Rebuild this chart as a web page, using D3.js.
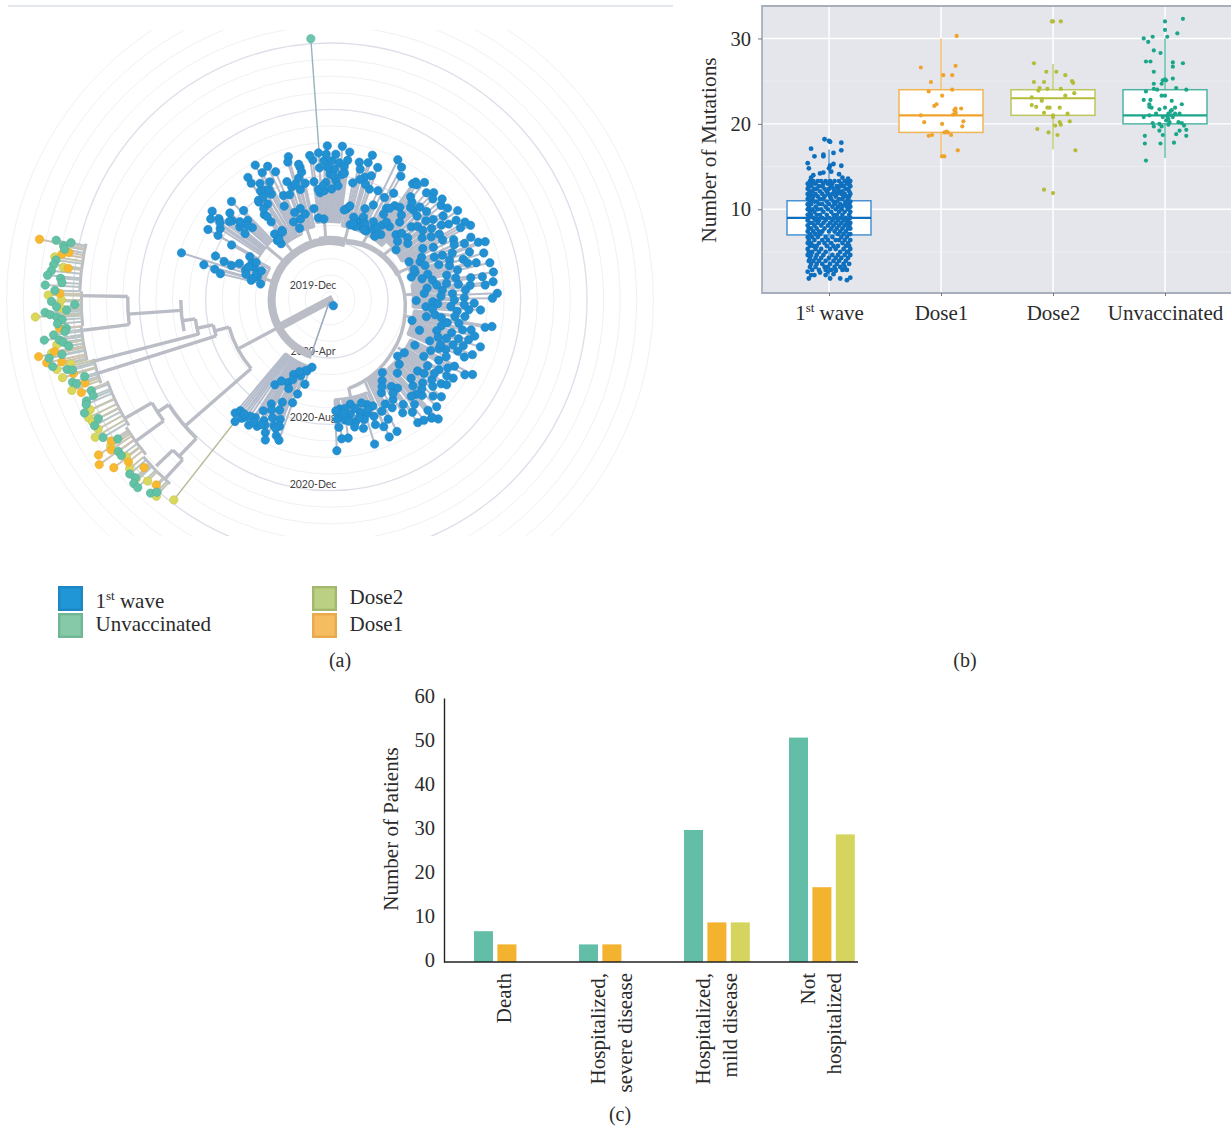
<!DOCTYPE html>
<html>
<head>
<meta charset="utf-8">
<script src="https://d3js.org/d3.v7.min.js"></script>
<style>
body { margin: 0; background: #fff; }
text { font-family: "Liberation Serif", serif; fill: #2b2b2b; }
</style>
</head>
<body>
<script>
// panel (a): angle is degrees clockwise from north, month counts from 2019-Dec
const ringMonths = [1, 2, 3, 5, 6, 7, 9, 10, 11, 13, 14, 15, 17, 18, 19, 20]
const strongRingMonths = [4, 8, 12, 16]
const ringLabels = [['2019-Dec', 0], ['2020-Apr', 4], ['2020-Aug', 8], ['2020-Dec', 12]]

// branch = [angle1, month1, angle2, month2]
const trunkBranches = [[242, 0.3, 242, 4], [198, 4, 375, 4.05]]
const ringTopBranches = [[350, 4.1, 375, 4.1]]
const ringRightBranches = [[375, 4.15, 405, 4.6], [405, 4.6, 430, 4.9]]
const ringThinBranches = [[430, 4.9, 460, 5.1], [460, 5.1, 490, 5.4], [490, 5.4, 510, 5.7], [510, 5.7, 528, 5.95]]
const backboneBranches = [
  [242, 4, 242, 6.7], [229, 6.8, 255, 6.8], [229, 6.8, 229, 12.1], [224, 12.1, 237, 12.1],
  [255, 6.8, 255, 7.7], [252.5, 7.7, 258, 7.7], [258, 7.7, 258, 8.7], [255, 8.7, 262, 8.7],
  [262, 8.7, 262, 9.5], [258, 9.5, 270, 9.5], [266, 9.5, 266, 12.7], [263, 12.7, 271, 12.7],
  [237, 12.1, 237, 12.9], [234, 12.9, 240, 12.9], [240, 12.9, 240, 14.8], [234, 12.9, 234, 15],
  [224, 12.1, 224, 13.6], [222.7, 13.6, 226.3, 13.6], [226.3, 13.6, 226.3, 15], [222.7, 13.6, 222.7, 15.2],
  [252.5, 7.7, 252.5, 15.3], [255.5, 8.7, 255.5, 15.5], [263, 12.7, 263, 15.5], [271, 12.7, 271, 15.6]
]
// rake = [angle1, angle2, month], tips hang off these
const leftRakes = [[272, 283, 15.6], [264, 272, 15.5], [256, 264, 15.6], [250, 256, 15.2], [238, 250, 14.8], [230, 238, 15], [221, 230, 15.2]]

// crown clade = [stem angle, base month, bend month, [tip angle, tip month, ...]]
const crownClades = [
  [-72, 4.2, 4.6, [-72.4, 9.9, -69, 7.9, -74.4, 8.4, -75, 7.7, -76.5, 7.3, -70, 7.3, -70.7, 6.8, -68, 6.4, -61.6, 6, -66.5, 5.5, -70.5, 5.9, -76, 5.4, -72, 5.1, -77, 4.8, -65, 5.7, -74, 5.3, -70, 5.2, -67, 5, -63, 5.5, -73, 5.8, -68, 5.8]],
  [-50, 4.2, 5.5, [-53, 9.4, -55.8, 9.2, -53.8, 8.8, -60, 9, -57, 8.4, -60, 8.3, -49, 8.5, -51, 8.1, -51, 7.5, -52, 7, -47, 6.9, -60.8, 7.3, -44, 8, -46, 7.4, -45, 8.9, -49, 7.7, -55, 8.6, -48, 7.2, -52, 8.2]],
  [-38, 4.2, 4.8, [-37.6, 7, -37, 6.4, -40, 5.7, -41.6, 5.3, -34.6, 5.6, -36, 7.8, -33, 7.4, -34, 9, -33.8, 9.4, -32.5, 8.3, -29, 7.8, -41, 5, -40, 5.3, -35, 5.5, -37, 6.8, -36, 7.3, -35.6, 7.9, -30.6, 8.2, -29, 8.1, -28, 9.2, -29, 9.8, -25, 9.4, -23, 8.9, -27, 8.5, -31, 8.7, -33, 7.9]],
  [-18, 4.2, 5, [-23, 5.2, -25, 5.7, -20, 5.7, -16, 5.9, -26, 6.8, -24, 7.4, -20, 8.1, -18.7, 7.7, -16.6, 7.8, -14.4, 8.1, -12.5, 8.4, -12.7, 8.7, -16.2, 9.5, -17, 9.2, -22, 6.2, -18, 6.3, -15, 7.4, -21, 7.3, -13, 8.9, -12, 7.7]],
  [-4, 4.1, 5.2, [-10, 6.1, -8, 5.5, -4.3, 5.4, -5.3, 7, -3, 7.1, 0.9, 7.2, -7.7, 7.7, 0, 8.1, 2.9, 7.7, 5.3, 8.1, -4.6, 8.5, -2.5, 8.9, 0.7, 8.9, 3.9, 8.8, 6, 8.6, 7.2, 9, -7, 9, -8, 9.3, -4.5, 9.4, -1.5, 9.3, 2.3, 9.3, 7.6, 9.5, -1, 9.8, 4.6, 9.8, -2, 7.6, 2, 8.4, 4, 7.4, -1, 8.5, 1.5, 8, -6, 7.2, -3.5, 7.4, 6.5, 8.2]],
  [14, 4.2, 5, [10.3, 6.1, 15, 5.2, 11, 7.7, 12, 9, 15.5, 9.1, 16.3, 9.6, 15.8, 8.2, 18.4, 8.4, 19.8, 9, 19.6, 7.6, 21.6, 5.7, 23.7, 7.7, 24.5, 6.8, 9, 6, 12, 6.3, 14, 8, 17, 7.8, 20, 5.4, 22, 5.9, 23, 5.3, 18, 5.5, 16, 5.7, 21, 6.4, 13, 8.6, 19, 5.2, 24, 5.6, 17, 5.3]],
  [30, 4.4, 5, [27.6, 5.2, 29, 5.9, 34.8, 6, 37.8, 5.5, 34.4, 7.4, 31.7, 7, 28, 7.5, 30.8, 8, 25.8, 9.9, 28.3, 9.6, 29.8, 9.1, 35.4, 9.1, 38.8, 9.6, 42.8, 7.9, 41.8, 6.8, 44, 8.3, 25, 5.5, 31, 5.5, 33, 5.7, 36, 9.3, 37, 9.2, 37, 7.5, 40, 7.2, 39, 6.2, 33, 7.1, 36, 6.3, 26, 5.2, 32, 6.6, 35, 5.2, 41, 7.9, 42, 9.2, 40, 8.2, 38, 8.4]],
  [50, 4.7, 5.4, [45.3, 6.1, 48, 7.1, 50.4, 8, 51.3, 6.5, 52.8, 5.5, 54.8, 8, 44, 9.5, 45.5, 9.2, 49.6, 9.3, 53.4, 9, 55, 9.9, 57.7, 9.5, 57.4, 9, 62, 10.1, 47, 6.4, 50, 7.4, 54, 6.3, 56, 7.2, 47.5, 8.4, 52, 8.4, 58, 7.7, 60, 9.9, 46, 7.8, 49, 5.9, 53, 7.5, 56, 8.6, 59, 8.2, 61, 9.5, 48, 9.6, 52, 9.5]],
  [68, 5, 5.6, [61, 6.9, 64.2, 5.8, 67, 6.4, 67.6, 7.3, 68.3, 7.8, 71.6, 8.1, 67.2, 9.3, 71, 9.4, 68.7, 10.1, 69.4, 10.5, 73, 10.2, 75.7, 9.6, 76.9, 10.4, 75.2, 6.6, 74.2, 5.6, 76.8, 8.4, 63, 7.5, 65, 6.6, 70, 6.6, 72, 7.4, 74, 8, 64, 8.8, 72, 5.9, 77, 6.2, 62, 8.2, 66, 8.7, 69, 8.4, 73, 8.9, 75, 9.1, 78, 7.7, 70, 5.9, 66, 9.8]],
  [86, 5.1, 5.5, [80.3, 10.5, 81.3, 9.8, 83.6, 10.4, 87.7, 10.6, 89.4, 10.3, 84.5, 9.9, 84, 9, 85.8, 8.7, 87, 7.9, 81.9, 7.6, 90.4, 5.7, 90.9, 6.7, 91.3, 9.2, 93.8, 9.6, 94, 6.3, 93.1, 7.8, 80, 8.2, 83, 6.4, 86, 6.2, 89, 8.6, 92, 7, 95, 8.2, 79, 6.8, 95, 6.7, 81, 9.1, 83, 8.3, 85, 7.3, 88, 7.2, 90, 8, 92, 8.6, 94, 8.9, 82, 7]],
  [102, 5.2, 5.6, [99.3, 10.4, 100, 10, 99.8, 6.4, 104, 5.6, 102.7, 8.7, 97.5, 8.1, 100.2, 8.4, 108.7, 6.2, 108.2, 7.9, 112.3, 7, 106.8, 8.6, 106, 9.2, 107.3, 10, 111, 9.7, 111.8, 8.8, 113.2, 8.1, 98, 6.9, 103, 7.4, 105, 8.1, 110, 8.4, 114, 7.7, 109, 9, 101, 7.7, 97, 8.7, 99, 7.3, 102, 9.2, 104, 9.5, 106, 7.2, 109, 7.4, 112, 7.7, 113, 9.3]],
  [125, 5.5, 5.9, [116.6, 7.3, 118, 6.3, 117.6, 10.2, 119, 9.8, 122.4, 9.3, 122.5, 8.3, 128, 8.3, 131.8, 8, 137.6, 8.2, 133, 9, 139.3, 9.9, 137.7, 10.2, 129, 7.3, 129.7, 5.8, 125.4, 6, 132.9, 6.2, 137.3, 6.5, 136, 7.7, 139.8, 8.1, 136, 8.5, 138.4, 9.4, 139, 9.9, 120, 8.7, 124, 7.6, 127, 8.9, 130, 8.6, 134, 7.3, 121, 7.1, 126, 9.2, 134, 8.2, 118, 9, 116, 8.3, 119, 8, 123, 8.9, 125, 8.2, 131, 9.4, 128, 7.7, 135, 9.6]],
  [150, 5.6, 5.8, [144.4, 9.6, 142, 9.7, 143.7, 8.9, 141, 8.6, 147.2, 8.6, 147.6, 7.6, 151, 6.9, 147.2, 6.3, 144.6, 6.9, 153, 9.4, 156.6, 9.5, 154, 8.5, 144.2, 5.9, 142.5, 7.2, 150, 8, 152, 7.6, 146, 7.3, 149, 6.6, 145, 8.2, 155, 7.9, 157, 8.8]],
  [168, 5.9, 6.5, [162.8, 9.6, 160.4, 7.2, 159.3, 8, 165, 7.5, 165.4, 8.5, 169, 6.9, 168, 8, 172.5, 8.9, 175.2, 8.9, 177.4, 9.6, 174.8, 7.1, 172.9, 7.8, 176.5, 7.7, 163, 7, 162, 7.7, 167, 7.2, 170, 7.5, 172, 7.1, 175, 7.4, 158, 7.4, 164, 8, 177, 7.2, 171, 7.9, 161, 7.5, 166, 7.8, 173, 7.4, 169, 8.3, 176, 8.2, 160, 8.5]]
]
// second blue clade, bottom left
const lowerBlueTips = [195, 4.7, 198, 5, 201, 5.4, 206, 5.5, 196.6, 5.8, 207, 6.1, 205, 6.4, 213, 6.6, 200, 7.1, 209.5, 7.7, 204.6, 7.8, 211, 8.3, 206, 8.4, 202.6, 8.3, 204, 8.8, 201.8, 8.7, 208.7, 8.8, 212.4, 8.9, 213, 9.5, 210, 9.3, 216.7, 9.4, 220, 9.4, 218, 9.8, 215.7, 9.2, 206, 9.4, 204.8, 9.8, 201.6, 9.3, 200, 9.5, 199, 5, 203, 5.2, 205, 5.8, 211, 6.2, 219, 9.1, 214.5, 9, 207.5, 9, 217, 9.1, 212, 9.2, 209, 9.1, 203, 8.9, 205, 7.3, 199, 6.5, 208, 8]
const rootTip = [150, 0.9]
const outlierUnvacc = [-4.2, 9, 16.3]   // angle, attach month, tip month
const outlierDose2 = [218, 9.4, 15.8]

const leftUnvacc = [282.3, 17.4, 281.5, 16.9, 282.5, 16.5, 280.8, 16.8, 278.3, 17.2, 277.3, 17.3, 276, 17.4, 275, 17.6, 274.6, 16.8, 273.7, 16.7, 273, 17.7, 272, 17.1, 269.7, 17.3, 269, 15.9, 268.6, 17, 267.8, 16.4, 267.5, 17.7, 267, 17.4, 266.4, 17, 265.8, 16.7, 265, 17, 263.9, 16.5, 263.2, 16.6, 262, 17.9, 262.8, 17.3, 261.6, 17, 261, 16.8, 260, 16.5, 258.3, 17.8, 258.5, 17, 256.5, 17.7, 255.2, 16.9, 254.8, 16.6, 252.3, 16.8, 251.7, 16.6, 252.7, 16, 249.2, 15.9, 248, 15.9, 247.5, 16.4, 246.8, 16.5, 245.3, 16.8, 242.9, 16.2, 241.9, 16.6, 238.8, 16.5, 236.8, 15.8, 234.4, 16.2, 233.3, 16.2, 229, 16.5, 227.6, 16.4, 226.9, 16.7, 225.7, 16.7, 222.9, 16.4, 222, 16.1]
const leftDose1 = [281.8, 18.4, 279.7, 16.9, 280.3, 16.5, 276.9, 16.4, 271.4, 16.8, 264, 16.9, 259.4, 17.4, 259, 18.4, 257.5, 18, 257, 17.1, 254, 16.6, 251.3, 16.1, 249.6, 16.5, 237.2, 16.2, 235.6, 16.5, 236.2, 17.3, 234.5, 17.6, 232.2, 17, 231.2, 16.1, 228, 15.6, 223.2, 15.8]
const leftDose2 = [278.9, 17.3, 277, 16.7, 271, 17.5, 270, 16.7, 268.2, 16.7, 266.7, 18.3, 260.7, 17.2, 259.2, 17.6, 256.2, 16.6, 255.7, 17.5, 253.8, 17.3, 250.7, 17, 245.4, 16.4, 244, 16.7, 242.9, 16.6, 240.9, 16.5, 239.7, 16.9, 236.3, 16.4, 232.4, 16, 229.9, 16.3, 227.3, 16.4, 225.2, 16, 221.5, 16.3]

const legendLeft = ['1st wave', 'Unvaccinated']
const legendRight = ['Dose2', 'Dose1']

// panel (b)
const groups = ['1st wave', 'Dose1', 'Dose2', 'Unvaccinated']
const boxQ1 = [7, 19, 21, 20]
const boxMedian = [9, 21, 23, 21]
const boxQ3 = [11, 24, 24, 24]
const whiskerLow = [2, 16, 17, 16]
const whiskerHigh = [17, 30, 27, 30]
// jitter is in hundredths of a category: [jitter, mutations, jitter, mutations ...]
const dose1Points = [14, 30.3, 13, 26.8, -18, 26.6, 2, 25.7, 10, 25.7, -9, 24.9, -11, 23.8, 10, 24, 1, 23.3, -4, 22.3, -6, 22.1, 13, 21.8, 18, 21.8, 13, 21.4, 11, 21.1, -18, 21, -15, 20.2, 1, 20, 20, 20.3, 19, 19.7, 3, 19, 6, 19, 9, 18.7, -11, 18.6, -8, 18.7, 3, 16.2, 15, 16.9, 13, 21.2, 5, 19.1, 1, 16.2, 12, 21.6]
const dose2Points = [0, 32, 7, 32, -17, 27.1, -6, 26.1, 3, 26.1, 11, 25.7, -17, 24.9, -8, 24.9, 17, 25, 18, 24.8, -12, 24.2, -5, 24.1, 7, 24.1, -13, 23.9, 19, 23.6, 11, 23.3, -19, 23.1, -10, 22.9, -10, 22.7, -19, 22.2, -15, 22, -5, 21.9, -3, 21.9, 6, 21.9, -8, 21.3, 13, 21.2, 0, 21, 0, 20.8, 15, 20.3, 6, 20.2, 2, 19.8, 7, 19.9, -14, 19.4, -4, 19, 4, 18.7, 20, 16.9, -8, 12.3, 0, 11.9, -1, 32]
const unvaccPoints = [16, 32.3, 0, 32, 0, 31, 11, 30.6, -11, 30.2, 2, 30.2, -19, 30, -15, 29.6, -10, 28.6, -4, 28.3, -17, 27.3, -13, 27.3, 7, 27.2, 16, 27.1, 7, 26.7, -10, 26.1, -2, 25.1, 1, 25.1, 7, 25.3, -10, 24.7, -3, 24.7, 10, 24.2, -10, 24.1, -7, 24, 19, 24, -17, 23.8, -3, 23.3, 0, 23.3, 6, 22.7, -19, 22.8, -13, 22.8, -14, 22.3, 15, 22.3, -12, 21.9, 0, 21.9, 9, 21.9, -14, 22, -5, 21.7, 6, 21.6, -8, 21.2, 3, 21.2, 6, 21, 9, 21.2, 13, 21.2, -14, 21, -19, 20.8, -2, 20.8, 3, 20.6, 7, 20.8, 1, 20.4, 4, 20.2, 12, 20.2, -11, 20.1, -5, 20, 15, 20.1, 17, 19.8, -10, 19.7, -3, 19.7, 3, 19.9, 19, 19.3, -5, 19.2, 13, 19.2, 10, 18.8, -18, 18.6, -2, 18.7, 19, 18.6, -18, 17.7, -4, 17.7, 8, 17.8, -17, 15.7, 0, 25.2, 5, 21.5, 2, 20.9]
const waveSparse = [-4, 18.2, 0, 18, 1, 17.9, 11, 17.8, -16, 17.1, 11, 16.9, 4, 16.6, -13, 16.2, -5, 16.2, -5, 16.4, -19, 15.4, -18, 14.8, 1, 15.1, 4, 15.3, 11, 15.1, -14, 14, -8, 14.2, -5, 14.3, 2, 14.4, 9, 14.1, 0, 14.8, -19, 2.7, -16, 2.3, -18, 1.9, -13, 2.3, -3, 2.3, 1, 1.9, 10, 1.9, 16, 1.7, 19, 2, 14, 3, 6, 2.8, -8, 2.6, -1, 2.7, 4, 2.4, 12, 13.7, 17, 13.6, -16, 13.7]
// rows of the dense 1st wave block: mutations, then the jitters at that height
const waveRows = [
  [13.3, -17, -14, -10, -7, -3, 1, 5, 9, 14, 17, 19],
  [13.0, -19, -15, -12, -5, -1, 3, 11, 16, 18],
  [12.7, -18, -16, -9, -6, 2, 7, 10, 13, 19],
  [12.4, -19, -13, -11, -4, 0, 4, 8, 15, 17],
  [12.1, -17, -15, -8, -2, 5, 9, 12, 18],
  [11.8, -19, -16, -12, -6, -1, 3, 7, 11, 14, 19],
  [11.5, -18, -14, -10, -4, 1, 6, 13, 16, 18],
  [11.2, -19, -15, -8, -5, 2, 9, 12, 17],
  [10.9, -17, -13, -11, -2, 4, 7, 15, 19],
  [10.6, -19, -16, -9, -6, 0, 5, 10, 14, 18],
  [10.3, -18, -12, -3, 3, 8, 12, 16, 19],
  [10.0, -19, -15, -10, -7, -1, 6, 11, 17],
  [9.7, -17, -13, -5, 2, 9, 14, 19],
  [9.35, -19, -16, -11, -8, -2, 4, 7, 12, 18],
  [9.0, -18, -14, -6, 0, 5, 10, 15, 19],
  [8.7, -19, -12, -9, -3, 3, 8, 13, 17],
  [8.4, -17, -15, -10, -5, 1, 6, 11, 16, 19],
  [8.1, -19, -13, -7, -1, 4, 9, 14, 18],
  [7.75, -18, -16, -11, -4, 2, 7, 12, 17, 19],
  [7.4, -19, -14, -9, -6, 0, 5, 10, 15],
  [7.1, -17, -12, -8, 8, 13, 18, 19],
  [6.75, -19, -15, -10, -3, 3, 11, 16],
  [6.4, -18, -13, -6, -1, 6, 9, 14, 19],
  [6.05, -19, -16, -9, -4, 2, 12, 17],
  [5.7, -17, -14, -11, -2, 4, 8, 15, 18],
  [5.35, -19, -12, -7, 1, 6, 13, 19],
  [5.0, -18, -15, -9, -3, 10, 16, 17],
  [4.65, -19, -16, -11, -5, 3, 8, 14, 19],
  [4.3, -17, -12, -7, 0, 6, 11, 17],
  [3.95, -18, -14, -9, -3, 4, 9, 15],
  [3.6, -16, -11, -6, 1, 7, 13, 18],
  [3.25, -17, -12, -4, -1, 5, 10, 14],
  [2.9, -15, -9, -3, 2, 6, 12, 16]
]

// panel (c)
const outcomes = ['Death', 'Hospitalized,|severe disease', 'Hospitalized,|mild disease', 'Not|hospitalized']
const vaccStatus = ['Unvaccinated', 'Dose1', 'Dose2']
const unvaccPatients = [7, 4, 30, 51]
const dose1Patients = [4, 4, 9, 17]
const dose2Patients = [0, 0, 9, 29]

const blue = '#2191d3', green = '#62c2a6', orange = '#f8b92f', yellow = '#d9d85a'
const branchGrey = '#bbbdc6'

const svg = d3.select('body').append('svg')
    .attr('width', 1231)
    .attr('height', 1128)
    .attr('viewBox', '0 0 1231 1128')
    .style('display', 'block')

function pairs(flat) {
    return d3.range(0, flat.length, 2).map(i => [flat[i], flat[i + 1]])
}

// ---------- (a) radial tree ----------
const cx = 330, cy = 300
const radius = d3.scaleLinear().domain([4, 16]).range([58, 257])

function polar(angle, month) {
    let t = angle * Math.PI / 180, r = radius(month)
    return [cx + r * Math.sin(t), cy - r * Math.cos(t)]
}

function branchPath(a1, m1, a2, m2) {
    let p1 = polar(a1, m1), p2 = polar(a2, m2)
    if (a1 === a2) return `M${p1}L${p2}`
    let r = (radius(m1) + radius(m2)) / 2
    return `M${p1}A${r},${r} 0 ${Math.abs(a2 - a1) > 180 ? 1 : 0} ${a2 > a1 ? 1 : 0} ${p2}`
}

svg.append('line').attr('x1', 8).attr('x2', 673).attr('y1', 6).attr('y2', 6)
    .attr('stroke', '#dcdfe8').attr('stroke-width', 1.5)

svg.append('clipPath').attr('id', 'treeClip').append('rect')
    .attr('x', 0).attr('y', 30).attr('width', 668).attr('height', 506)

const tree = svg.append('g').attr('clip-path', 'url(#treeClip)')

tree.selectAll('.ring').data(ringMonths).join('circle').attr('class', 'ring')
    .attr('cx', cx).attr('cy', cy).attr('r', d => radius(d))
    .attr('fill', 'none').attr('stroke', '#f0f1f6').attr('stroke-width', 1)
tree.selectAll('.strongRing').data(strongRingMonths).join('circle').attr('class', 'strongRing')
    .attr('cx', cx).attr('cy', cy).attr('r', d => radius(d))
    .attr('fill', 'none').attr('stroke', '#dde0ea').attr('stroke-width', 1.4)

tree.selectAll('.ringLabel').data(ringLabels).join('text').attr('class', 'ringLabel')
    .attr('x', 313).attr('y', d => cy + radius(d[1]) - 3)
    .attr('text-anchor', 'middle')
    .style('font-family', 'Lato, sans-serif').style('font-size', '10.5px').style('fill', '#444')
    .text(d => d[0])

function drawBranches(list, width, colour) {
    tree.append('g').selectAll('path').data(list).join('path')
        .attr('d', d => branchPath(d[0], d[1], d[2], d[3]))
        .attr('fill', 'none').attr('stroke', colour || branchGrey).attr('stroke-width', width)
}

// crown stems and tips lines
crownClades.forEach(function(clade) {
    let tips = pairs(clade[3])
    let spread = d3.extent(tips, d => d[0])
    drawBranches([[clade[0], clade[1], clade[0], clade[2]]], 3)
    drawBranches([[spread[0], clade[2], spread[1], clade[2]]], 2)
    drawBranches(tips.map(t => [t[0], clade[2], t[0], t[1]]), 2, '#b6bcca')
})

let lowerTips = pairs(lowerBlueTips)
drawBranches([[198, 4.7, 220, 4.7]], 2.5)
drawBranches(lowerTips.map(t => [t[0], 4.7, t[0], t[1]]), 2, '#b4bccc')

drawBranches(trunkBranches, 8)
drawBranches(ringTopBranches, 9)
drawBranches(ringRightBranches, 5.5)
drawBranches(ringThinBranches, 3.5)
drawBranches(backboneBranches, 3.4)
drawBranches(leftRakes.map(d => [d[0], d[2], d[1], d[2]]), 3)

// long single branches
drawBranches([[199, 0.6, 199, 4]], 1.6, '#9fa9bd')
drawBranches([[outlierUnvacc[0], outlierUnvacc[1], outlierUnvacc[0], outlierUnvacc[2]]], 1.4, '#95b4bb')
drawBranches([[outlierDose2[0], outlierDose2[1], outlierDose2[0], outlierDose2[2]]], 1.4, '#b8b898')

function rakeMonth(angle) {
    let rake = leftRakes.find(d => angle >= d[0] && angle <= d[1])
    return rake ? rake[2] : 15.3
}

const leftSets = [[leftUnvacc, green, '#b9c4c6'], [leftDose1, orange, '#cdc3b4'], [leftDose2, yellow, '#c4c6b0']]
leftSets.forEach(function(s) {
    drawBranches(pairs(s[0]).map(t => [t[0], rakeMonth(t[0]), t[0], t[1]]), 2, s[2])
})

function drawTips(list, colour, stroke) {
    tree.append('g').selectAll('circle').data(list).join('circle')
        .attr('cx', d => polar(d[0], d[1])[0])
        .attr('cy', d => polar(d[0], d[1])[1])
        .attr('r', 4.2)
        .attr('fill', colour).attr('stroke', stroke).attr('stroke-width', 0.6)
}

crownClades.forEach(clade => drawTips(pairs(clade[3]), blue, '#1c86c6'))
drawTips(lowerTips, blue, '#1c86c6')
drawTips([rootTip], blue, '#1c86c6')
drawTips(pairs(leftDose2), yellow, '#c4c552')
drawTips(pairs(leftDose1), orange, '#e5aa38')
drawTips(pairs(leftUnvacc), green, '#55ae95')
drawTips([[outlierUnvacc[0], outlierUnvacc[2]]], '#6cc5ae', '#5cb39c')
drawTips([[outlierDose2[0], outlierDose2[2]]], yellow, '#c4c552')

// legend
function legend(names, x, ys, fills, borders, textX, textYs) {
    names.forEach(function(name, i) {
        svg.append('rect').attr('x', x + 1.2).attr('y', ys[i] + 1.2).attr('width', 22.6).attr('height', 22.6)
            .attr('fill', fills[i]).attr('stroke', borders[i]).attr('stroke-width', 2.4)
        let t = svg.append('text').attr('x', textX - 0.5).attr('y', textYs[i]).style('font-size', '21px')
        if (name === '1st wave') superscript(t, 21)
        else t.text(name)
    })
}

function superscript(t, size) {
    t.append('tspan').text('1')
    t.append('tspan').attr('dy', -size * 0.36).style('font-size', (size * 0.62) + 'px').text('st')
    t.append('tspan').attr('dy', size * 0.36).text(' wave')
}

legend(legendLeft, 58, [586, 613], ['#2196d6', '#86c9a8'], ['#1d87c5', '#70b795'], 96, [608, 631])
legend(legendRight, 312, [586, 613], ['#bcd083', '#f5bc60'], ['#a3b86f', '#e9a94d'], 350, [604, 631])

svg.selectAll('.panelLabel').data([['(a)', 340, 667], ['(b)', 965, 667], ['(c)', 620, 1121]])
    .join('text').attr('class', 'panelLabel')
    .attr('x', d => d[1]).attr('y', d => d[2]).attr('text-anchor', 'middle')
    .style('font-size', '20px').text(d => d[0])

// ---------- (b) box plot ----------
const boxColours = ['#0e6fbe', '#f0a32c', '#b4bd3a', '#1ba68a']
const boxLight = ['#4a92d2', '#f2b555', '#bcc65c', '#4db5a2']
const panelB = { left: 762, right: 1231, top: 6, bottom: 293 }
const yB = d3.scaleLinear().domain([0.2, 33.8]).range([panelB.bottom, panelB.top])
const xB = d3.scalePoint().domain(groups).range([829, 1165])
const jitter = d3.scaleLinear().domain([-100, 100]).range([-112, 112])

svg.append('rect').attr('x', panelB.left).attr('y', panelB.top)
    .attr('width', panelB.right - panelB.left).attr('height', panelB.bottom - panelB.top)
    .attr('fill', '#e4e6eb')

const minorTicks = [5, 15, 25]
svg.append('g').selectAll('line').data(minorTicks).join('line')
    .attr('x1', panelB.left).attr('x2', panelB.right).attr('y1', d => yB(d)).attr('y2', d => yB(d))
    .attr('stroke', '#eceef1').attr('stroke-width', 1)
svg.append('g').selectAll('line').data([10, 20, 30]).join('line')
    .attr('x1', panelB.left).attr('x2', panelB.right).attr('y1', d => yB(d)).attr('y2', d => yB(d))
    .attr('stroke', '#fff').attr('stroke-width', 1.4)
svg.append('g').selectAll('line').data(groups).join('line')
    .attr('x1', d => xB(d)).attr('x2', d => xB(d)).attr('y1', panelB.top).attr('y2', panelB.bottom)
    .attr('stroke', '#fff').attr('stroke-width', 1.4)

// frame, top left bottom only
svg.append('path').attr('d', `M${panelB.right},${panelB.top}H${panelB.left}V${panelB.bottom}H${panelB.right}`)
    .attr('fill', 'none').attr('stroke', '#a8aebb').attr('stroke-width', 1.8)

const boxG = svg.append('g')
groups.forEach(function(g, i) {
    let x = xB(g)
    boxG.append('line').attr('x1', x).attr('x2', x).attr('y1', yB(whiskerLow[i])).attr('y2', yB(whiskerHigh[i]))
        .attr('stroke', boxLight[i]).attr('stroke-width', 1.3)
    boxG.append('rect').attr('x', x - 42).attr('width', 84)
        .attr('y', yB(boxQ3[i])).attr('height', yB(boxQ1[i]) - yB(boxQ3[i]))
        .attr('fill', '#fff').attr('stroke', boxLight[i]).attr('stroke-width', 1.5)
    boxG.append('line').attr('x1', x - 42).attr('x2', x + 42).attr('y1', yB(boxMedian[i])).attr('y2', yB(boxMedian[i]))
        .attr('stroke', boxColours[i]).attr('stroke-width', 2.2)
})

const wavePoints = waveRows.flatMap(row => row.slice(1).map(j => [j, row[0]])).concat(pairs(waveSparse))
const groupPoints = [wavePoints, pairs(dose1Points), pairs(dose2Points), pairs(unvaccPoints)]
groups.forEach(function(g, i) {
    svg.append('g').selectAll('circle').data(groupPoints[i]).join('circle')
        .attr('cx', d => xB(g) + jitter(d[0]))
        .attr('cy', d => yB(d[1]))
        .attr('r', i === 0 ? 2.4 : 2.1)
        .attr('fill', boxColours[i])
})

const yAxisB = svg.append('g').attr('transform', `translate(${panelB.left},0)`)
    .call(d3.axisLeft(yB).tickValues([10, 20, 30]).tickSize(4).tickPadding(7))
yAxisB.select('.domain').remove()
yAxisB.selectAll('line').attr('stroke', '#777')
yAxisB.selectAll('text').style('font-size', '20.5px').style('font-family', '"Liberation Serif", serif')

const xAxisB = svg.append('g').attr('transform', `translate(0,${panelB.bottom})`)
    .call(d3.axisBottom(xB).tickSize(3).tickPadding(9))
xAxisB.select('.domain').remove()
xAxisB.selectAll('line').attr('stroke', '#777')
xAxisB.selectAll('text').style('font-size', '21px').style('font-family', '"Liberation Serif", serif')
    .each(function(d) {
        if (d === '1st wave') {
            let t = d3.select(this).text('')
            superscript(t, 21)
        }
    })

svg.append('text').attr('transform', 'translate(716,150) rotate(-90)').attr('text-anchor', 'middle')
    .style('font-size', '21.4px').text('Number of Mutations')

// ---------- (c) bars ----------
const yC = d3.scaleLinear().domain([0, 60]).range([962, 698])
const xC = d3.scaleBand().domain(outcomes).range([444, 864])
const xS = d3.scaleBand().domain(vaccStatus).range([30, 95.8]).paddingInner(0.188)
const barColours = { Unvaccinated: '#62bea6', Dose1: '#f3b32e', Dose2: '#d4d45e' }
const patients = { Unvaccinated: unvaccPatients, Dose1: dose1Patients, Dose2: dose2Patients }

vaccStatus.forEach(function(s) {
    svg.append('g').selectAll('rect').data(outcomes).join('rect')
        .attr('x', d => xC(d) + xS(s))
        .attr('width', xS.bandwidth())
        .attr('y', (d, i) => yC(patients[s][i]))
        .attr('height', (d, i) => yC(0) - yC(patients[s][i]))
        .attr('fill', barColours[s])
})

const yAxisC = svg.append('g').attr('transform', 'translate(444,0)')
    .call(d3.axisLeft(yC).tickValues(d3.range(0, 61, 10)).tickSize(0).tickPadding(9))
yAxisC.select('.domain').attr('stroke', '#222').attr('stroke-width', 1.4)
yAxisC.selectAll('text').style('font-size', '20.5px').style('font-family', '"Liberation Serif", serif').attr('dy', '0.2em')

svg.append('line').attr('x1', 444).attr('x2', 858).attr('y1', 962).attr('y2', 962)
    .attr('stroke', '#222').attr('stroke-width', 1.4)

const labelX = [[503], [597, 624], [702, 729], [807, 833]]
outcomes.forEach(function(o, i) {
    o.split('|').forEach(function(line, j) {
        svg.append('text')
            .attr('transform', `translate(${labelX[i][j] + 7.5},973) rotate(-90)`)
            .attr('text-anchor', 'end')
            .style('font-size', '21px')
            .text(line)
    })
})

svg.append('text').attr('transform', 'translate(398,829) rotate(-90)').attr('text-anchor', 'middle')
    .style('font-size', '21px').text('Number of Patients')
</script>
</body>
</html>
